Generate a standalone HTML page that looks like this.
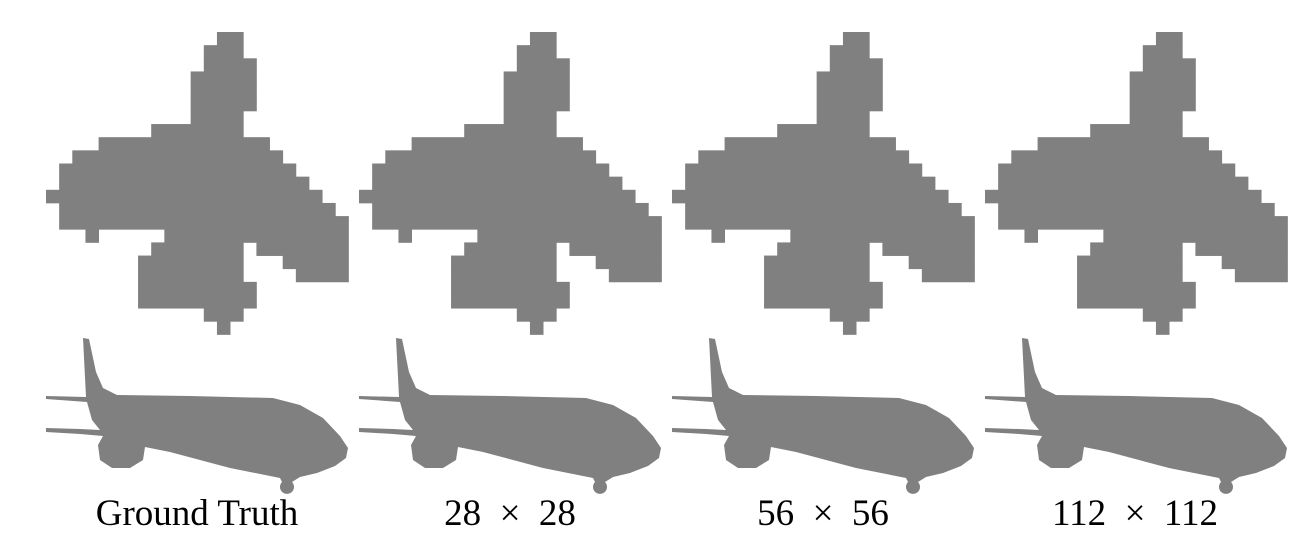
<!DOCTYPE html>
<html><head><meta charset="utf-8"><style>
html,body{margin:0;padding:0;background:#fff;width:1314px;height:552px;overflow:hidden}
svg{display:block}
.lbl{font-family:"Liberation Serif",serif;font-size:37px;fill:#000;white-space:pre}
</style></head><body>
<svg id="fig" width="1314" height="552" viewBox="0 0 1314 552" xmlns="http://www.w3.org/2000/svg">
<g id="panels"></g>
<text class="lbl" x="197" y="525" text-anchor="middle">Ground Truth</text>
<text class="lbl" x="510" y="525" text-anchor="middle">28  ×  28</text>
<text class="lbl" x="823" y="525" text-anchor="middle">56  ×  56</text>
<text class="lbl" x="1135" y="525" text-anchor="middle">112  ×  112</text>
</svg>
<script>
// row spans [startCol, endCol] of the 23x23 mask grid
const maskRows = [
 [[13,14]],[[12,14]],[[12,15]],[[11,15]],[[11,15]],[[11,15]],[[11,14]],[[8,14]],
 [[4,16]],[[2,17]],[[1,18]],[[1,19]],[[0,20]],[[1,21]],[[1,22]],
 [[3,3],[9,22]],[[8,14],[16,22]],[[7,14],[18,22]],[[7,14],[19,22]],
 [[7,15]],[[7,15]],[[12,14]],[[13,13]]
];
const panelNames = ['ground-truth','28x28','56x56','112x112'];
const panelX = [46,359,672,985];
const cell = 13.15, topY = 32;
const planePath = "M83,338 L89,339 L96,372 L103,388 L117,395 L190,396 L273,398 L300,405 L323,418 L340,436 L348,448 L346,458 L335,466 L317,473 L300,477 L292,482 A7,7 0 1 1 282,482 L280,478 L230,468 L200,460 L170,452 L145,447 L143,460 L130,468 L112,468 L100,460 L98,445 L103,436 L80,434 L46,432 L46,428 L80,429 L100,430 L92,420 L87,402 L46,399 L46,396 L86,397 Z";
const g = document.getElementById('panels');
const NS = 'http://www.w3.org/2000/svg';
panelNames.forEach((nm,i)=>{
  const pg = document.createElementNS(NS,'g');
  
  
  const mg = document.createElementNS(NS,'g');
  
  
  maskRows.forEach((spans,r)=>{
    spans.forEach(sp=>{
      const rc = document.createElementNS(NS,'rect');
      
      
      rc.setAttribute('x', panelX[i] + sp[0]*cell);
      rc.setAttribute('y', topY + r*cell);
      rc.setAttribute('width', (sp[1]-sp[0]+1)*cell + 0.4);
      rc.setAttribute('height', cell + 0.4);
      rc.setAttribute('fill', '#808080');
      mg.appendChild(rc);
    });
  });
  pg.appendChild(mg);
  const p = document.createElementNS(NS,'path');
  
  
  p.setAttribute('d', planePath);
  p.setAttribute('fill', '#808080');
  p.setAttribute('transform', 'translate('+(panelX[i]-46)+',0)');
  pg.appendChild(p);
  g.appendChild(pg);
});
</script>
</body></html>
